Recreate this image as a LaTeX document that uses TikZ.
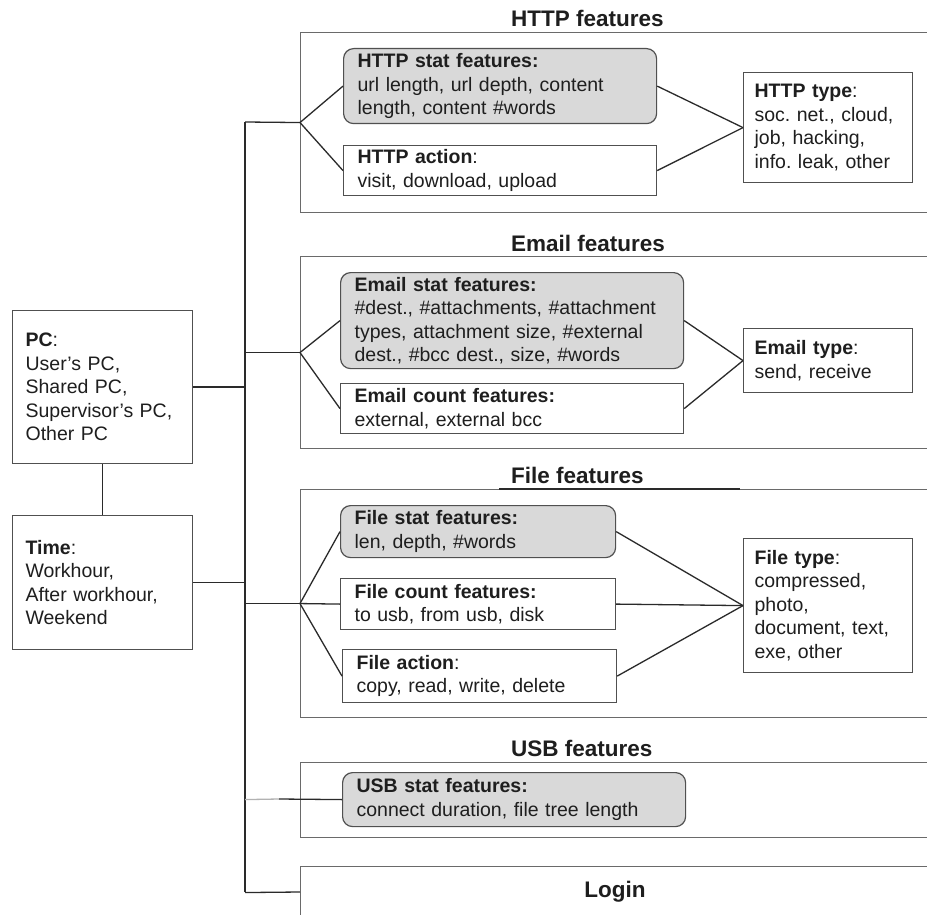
\documentclass[tikz,border=0pt]{standalone}
\usepackage{fontspec}
\setmainfont{Liberation Sans}
\frenchspacing
\definecolor{boxc}{HTML}{505050}
\definecolor{outc}{HTML}{6A6A6A}
\definecolor{fillc}{HTML}{D9D9D9}
\definecolor{linec}{HTML}{2A2A2A}
\definecolor{txtc}{HTML}{1E1E1E}
\newcommand{\fsnorm}{\fontsize{19.5}{23.5}\selectfont\frenchspacing}
\newcommand{\fstitle}{\fontsize{22.5}{27}\selectfont\bfseries}
\tikzset{
  fbox/.style={draw=boxc, line width=1.2pt, inner xsep=14pt, inner ysep=0pt,
    align=left, anchor=north west, font=\fsnorm, text=txtc, fill=white},
  sbox/.style={fbox, fill=fillc, rounded corners=10pt},
  tbox/.style={fbox, inner xsep=11pt},
  outbox/.style={draw=outc, line width=1.1pt, anchor=north west, inner sep=0pt, minimum width=650pt},
  ttl/.style={font=\fstitle, text=txtc, inner sep=0pt},
  conn/.style={draw=linec, line width=1.3pt},
}
\begin{document}
\begin{tikzpicture}[x=1pt, y=-1pt]
\useasboundingbox (0,0) rectangle (927,915);
\clip (0,0) rectangle (927,915);
\fill[white] (0,0) rectangle (927,915);

% outer containers
\node[outbox, minimum height=180pt] (httpbox) at (300,32) {};
\node[outbox, minimum height=192pt] (emailbox) at (300,256) {};
\node[outbox, minimum height=228pt] (filebox) at (300,489) {};
\node[outbox, minimum height=75pt] (usbbox) at (300,762) {};
\node[outbox, minimum height=52pt] (loginbox) at (300,866) {};

% titles
\node[ttl, anchor=west] (httpttl) at (511,18) {HTTP features};
\node[ttl, anchor=west] (emailttl) at (511,243) {Email features};
\node[ttl, anchor=west] (filettl) at (511,475) {File features};
\node[ttl, anchor=west] (usbttl) at (511,748) {USB features};
\node[ttl] (loginttl) at (615,892) {Login};
\draw[linec, line width=2pt] (499,489) -- (740,489);

% HTTP
\node[sbox, text width=285pt, minimum height=75pt] (httpstat) at (343,48)
  {\textbf{HTTP stat features:}\\url length, url depth, content\\length, content \#words};
\node[fbox, text width=285pt, minimum height=50pt] (httpact) at (343,145)
  {\textbf{HTTP action}:\\visit, download, upload};
\node[tbox, text width=147pt, minimum height=110pt] (httptype) at (743,72)
  {\textbf{HTTP type}:\\soc. net., cloud,\\job, hacking,\\info. leak, other};

% Email
\node[sbox, text width=315pt, minimum height=96pt] (emailstat) at (340,272)
  {\textbf{Email stat features:}\\\#dest., \#attachments, \#attachment\\types, attachment size, \#external\\dest., \#bcc dest., size, \#words};
\node[fbox, text width=315pt, minimum height=50pt] (emailcount) at (340,383)
  {\textbf{Email count features:}\\external, external bcc};
\node[tbox, text width=147pt, minimum height=64pt] (emailtype) at (743,328)
  {\textbf{Email type}:\\send, receive};

% File
\node[sbox, text width=247pt, minimum height=52pt] (filestat) at (340,505)
  {\textbf{File stat features:}\\len, depth, \#words};
\node[fbox, text width=247pt, minimum height=51pt] (filecount) at (340,578)
  {\textbf{File count features:}\\to usb, from usb, disk};
\node[fbox, text width=246pt, minimum height=53pt] (fileact) at (342,649)
  {\textbf{File action}:\\copy, read, write, delete};
\node[tbox, text width=147pt, minimum height=134pt] (filetype) at (743,538)
  {\textbf{File type}:\\compressed,\\photo,\\document, text,\\exe, other};

% USB
\node[sbox, text width=315pt, minimum height=54pt] (usbstat) at (342,772)
  {\textbf{USB stat features:}\\connect duration, file tree length};

% PC and Time
\node[fbox, inner xsep=13pt, text width=154pt, minimum height=153pt] (pc) at (12,310)
  {\textbf{PC}:\\User's PC,\\Shared PC,\\Supervisor's PC,\\Other PC};
\node[fbox, inner xsep=13pt, text width=154pt, minimum height=134pt] (time) at (12,515)
  {\textbf{Time}:\\Workhour,\\After workhour,\\Weekend};

% trunk
\coordinate (trtop) at (245,122);
\coordinate (trbot) at (245,892);
\coordinate (usbmid) at (279,799);
\draw[conn] (trtop) -- (trbot);
\draw[conn] (pc.south) -- (time.north);
\draw[conn] (pc.east) -- (pc.east -| trtop);
\draw[conn] (time.east) -- (time.east -| trtop);
\draw[conn] (trtop) -- (httpbox.west);
\draw[conn] (emailbox.west -| trtop) -- (emailbox.west);
\draw[conn] (filebox.west -| trtop) -- (filebox.west);
\draw[conn] (loginbox.west -| trtop) -- (loginbox.west |- trbot);
\draw[conn, draw=gray!60] (usbstat.west -| trtop) -- (usbmid);
\draw[conn] (usbmid) -- (usbstat.west);

% HTTP connectors
\draw[conn] (httpbox.west) -- (httpstat.west);
\draw[conn] (httpbox.west) -- (httpact.west);
\draw[conn] (httpstat.east) -- (httptype.west);
\draw[conn] (httpact.east) -- (httptype.west);

% Email connectors
\draw[conn] (emailbox.west) -- (emailstat.west);
\draw[conn] (emailbox.west) -- (emailcount.west);
\draw[conn] (emailstat.east) -- (emailtype.west);
\draw[conn] (emailcount.east) -- (emailtype.west);

% File connectors
\draw[conn] (filebox.west) -- (filestat.west);
\draw[conn] (filebox.west) -- (filecount.west);
\draw[conn] (filebox.west) -- (fileact.west);
\draw[conn] (filestat.east) -- (filetype.west);
\draw[conn] (filecount.east) -- (filetype.west);
\draw[conn] (fileact.east) -- (filetype.west);
\end{tikzpicture}
\end{document}
